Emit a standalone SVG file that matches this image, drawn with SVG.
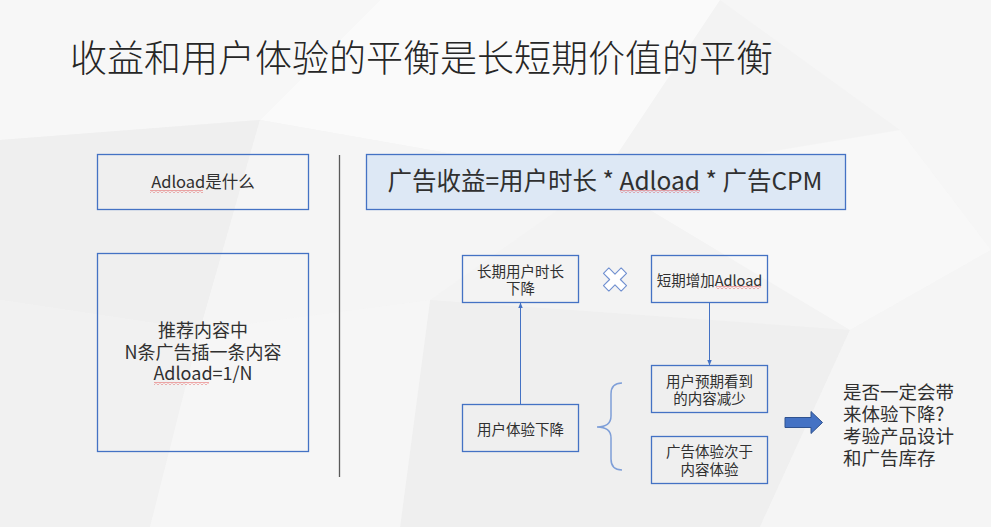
<svg xmlns="http://www.w3.org/2000/svg" width="991" height="527" viewBox="0 0 991 527">
<style>
text{font-family:"Noto Sans CJK SC","Noto Sans",sans-serif;fill:#303030}
.box{fill:none;stroke:#4472c4;stroke-width:1.3}
.c{text-anchor:middle}
.conn{stroke:#4472c4;stroke-width:1;fill:none}
.bg{stroke:none}
</style>
<defs>
<pattern id="sq" width="4" height="3" patternUnits="userSpaceOnUse">
<path d="M0 2.5 L2 0.5 L4 2.5" stroke="#e03030" stroke-width="0.8" fill="none"/>
</pattern>
<marker id="ah" viewBox="0 0 10 10" refX="9" refY="5" markerWidth="6" markerHeight="6" orient="auto" markerUnits="userSpaceOnUse">
<path d="M0 1 L10 5 L0 9 Z" fill="#4472c4"/>
</marker>
</defs>
<g id="background">
<rect class="bg" x="0" y="0" width="991" height="527" fill="#f3f3f3"/>
<polygon class="bg" points="0,0 380,0 260,120 0,140" fill="#f7f7f7"/>
<polygon class="bg" points="380,0 720,0 600,180 260,120" fill="#fafafa"/>
<polygon class="bg" points="720,0 991,0 991,250 900,130" fill="#f6f6f6"/>
<polygon class="bg" points="0,140 260,120 200,330 0,300" fill="#efefef"/>
<polygon class="bg" points="600,180 900,130 991,250 850,330" fill="#f8f8f8"/>
<polygon class="bg" points="260,120 600,180 430,300 200,330" fill="#f5f5f5"/>
<polygon class="bg" points="0,300 200,330 150,527 0,527" fill="#f1f1f1"/>
<polygon class="bg" points="430,300 850,330 760,527 400,527" fill="#efefef"/>
<polygon class="bg" points="850,330 991,250 991,527 760,527" fill="#f5f5f5"/>
<polygon class="bg" points="200,330 430,300 400,527 150,527" fill="#f6f6f6"/>
</g>
<g id="title">
<text x="70" y="72" font-size="37" font-weight="300" style="fill:#262626">收益和用户体验的平衡是长短期价值的平衡</text>
</g>
<g id="divider">
<line x1="339.5" y1="155" x2="339.5" y2="477" stroke="#595959" stroke-width="1.3"/>
</g>
<g id="node-what">
<rect class="box" x="97.5" y="154.5" width="211" height="55"/>
<text class="c" x="203" y="188" font-size="16.5">Adload是什么</text>
<rect x="150" y="190" width="53" height="3" fill="url(#sq)"/>
</g>
<g id="node-def">
<rect class="box" x="97.5" y="253.5" width="211" height="198"/>
<text class="c" x="203" y="337" font-size="18">推荐内容中</text>
<text class="c" x="203" y="359" font-size="18">N条广告插一条内容</text>
<text class="c" x="203" y="380" font-size="18">Adload=1/N</text>
<rect x="154" y="382" width="55" height="3" fill="url(#sq)"/>
</g>
<g id="node-formula">
<rect x="366.5" y="154.5" width="479" height="55" fill="#dde8f5" stroke="#4472c4" stroke-width="1.3"/>
<text class="c" x="605" y="190" font-size="24.5">广告收益=用户时长 * Adload * 广告CPM</text>
<rect x="620" y="190" width="80" height="3" fill="url(#sq)"/>
</g>
<g id="node-long">
<rect class="box" x="462.5" y="255.5" width="116" height="47"/>
<text class="c" x="520.5" y="277" font-size="14.5">长期用户时长</text>
<text class="c" x="520.5" y="294" font-size="14.5">下降</text>
</g>
<g id="node-times">
<polygon transform="translate(615 279.5) rotate(45)" points="-3.8,-12.5 3.8,-12.5 3.8,-3.8 12.5,-3.8 12.5,3.8 3.8,3.8 3.8,12.5 -3.8,12.5 -3.8,3.8 -12.5,3.8 -12.5,-3.8 -3.8,-3.8" fill="#ffffff" stroke="#6f8fd0" stroke-width="1.1" stroke-linejoin="round"/>
</g>
<g id="node-short">
<rect class="box" x="651.5" y="255.5" width="116" height="47"/>
<text class="c" x="709.5" y="285.5" font-size="14.5">短期增加Adload</text>
<rect x="716" y="286" width="45" height="3" fill="url(#sq)"/>
</g>
<g id="node-expect">
<rect class="box" x="651.5" y="365.5" width="116" height="47"/>
<text class="c" x="709.5" y="387" font-size="14.5">用户预期看到</text>
<text class="c" x="709.5" y="404" font-size="14.5">的内容减少</text>
</g>
<g id="node-ux">
<rect class="box" x="462.5" y="404.5" width="116" height="47"/>
<text class="c" x="520.5" y="434.5" font-size="14.5">用户体验下降</text>
</g>
<g id="node-adexp">
<rect class="box" x="651.5" y="436.5" width="116" height="47"/>
<text class="c" x="709.5" y="457" font-size="14.5">广告体验次于</text>
<text class="c" x="709.5" y="475" font-size="14.5">内容体验</text>
</g>
<g id="node-question">
<text x="843" y="398.5" font-size="18.5">是否一定会带</text>
<text x="843" y="421" font-size="18.5">来体验下降?</text>
<text x="843" y="443" font-size="18.5">考验产品设计</text>
<text x="843" y="465" font-size="18.5">和广告库存</text>
</g>
<g id="connectors">
<line class="conn" x1="520.5" y1="404" x2="520.5" y2="303" marker-end="url(#ah)"/>
<line class="conn" x1="709.5" y1="303" x2="709.5" y2="365" marker-end="url(#ah)"/>
<path d="M622 383 Q611 383 611 394 L611 416 Q611 427 597 427 Q611 427 611 438 L611 459 Q611 470 622 470" fill="none" stroke="#7f9fd8" stroke-width="1.5"/>
<polygon points="785,417.5 811,417.5 811,411.5 822.5,422.5 811,433.5 811,427.5 785,427.5" fill="#4472c4" stroke="#2f528f" stroke-width="1"/>
</g>
</svg>
